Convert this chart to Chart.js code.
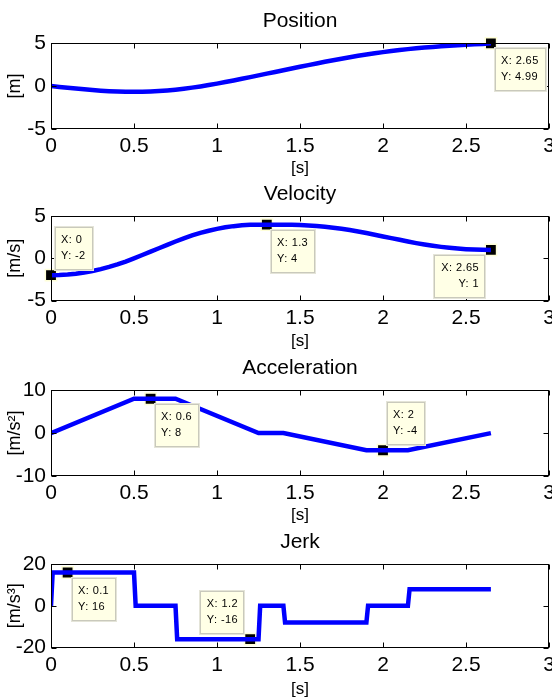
<!DOCTYPE html>
<html>
<head>
<meta charset="utf-8">
<script src="https://cdn.jsdelivr.net/npm/chart.js@4"></script>
<style>
  body { margin: 0; background: #fff; }
  #wrap { position: relative; width: 552px; height: 698px; overflow: hidden; }
  #wrap canvas { position: absolute; left: 0; }
</style>
</head>
<body>
<div id="wrap">
  <canvas id="posChart" width="552" height="176" style="top:0px"></canvas>
  <canvas id="velChart" width="552" height="176" style="top:173px"></canvas>
  <canvas id="accChart" width="552" height="176" style="top:346.5px"></canvas>
  <canvas id="jerkChart" width="552" height="176" style="top:521px"></canvas>
</div>
<script>
// time samples for position / velocity (every 0.05 s)
const time = [0, 0.05, 0.1, 0.15, 0.2, 0.25, 0.3, 0.35, 0.4, 0.45, 0.5, 0.55, 0.6, 0.65, 0.7, 0.75,
  0.8, 0.85, 0.9, 0.95, 1, 1.05, 1.1, 1.15, 1.2, 1.25, 1.3, 1.35, 1.4, 1.45, 1.5, 1.55, 1.6, 1.65,
  1.7, 1.75, 1.8, 1.85, 1.9, 1.95, 2, 2.05, 2.1, 2.15, 2.2, 2.25, 2.3, 2.35, 2.4, 2.45, 2.5, 2.55,
  2.6, 2.65];
const position = [0, -0.10, -0.20, -0.29, -0.38, -0.46, -0.53, -0.59, -0.63, -0.66, -0.67, -0.66,
  -0.63, -0.58, -0.51, -0.42, -0.31, -0.18, -0.04, 0.12, 0.29, 0.47, 0.66, 0.85, 1.05, 1.25, 1.45,
  1.65, 1.85, 2.05, 2.25, 2.45, 2.64, 2.83, 3.01, 3.19, 3.36, 3.53, 3.68, 3.83, 3.96, 4.09, 4.20,
  4.31, 4.40, 4.49, 4.57, 4.64, 4.70, 4.76, 4.82, 4.87, 4.92, 4.99];
const velocity = [-2, -1.98, -1.92, -1.82, -1.68, -1.5, -1.28, -1.02, -0.72, -0.38, 0, 0.4, 0.8,
  1.2, 1.6, 2.0, 2.38, 2.72, 3.02, 3.28, 3.5, 3.68, 3.82, 3.92, 3.98, 4, 4, 4, 4, 3.99, 3.96, 3.91,
  3.84, 3.75, 3.64, 3.51, 3.36, 3.19, 3.0, 2.8, 2.6, 2.4, 2.2, 2.0, 1.81, 1.64, 1.49, 1.36, 1.25,
  1.16, 1.09, 1.04, 1.01, 1.0];

// acceleration is piecewise linear: its corners
const accTime = [0, 0.5, 0.75, 1.25, 1.4, 1.9, 2.15, 2.65];
const acceleration = [0, 8, 8, 0, 0, -4, -4, 0];

// jerk is piecewise constant: the step edges
const jerkTime = [0, 0.01, 0.5, 0.51, 0.75, 0.76, 1.25, 1.26, 1.4, 1.41, 1.9, 1.91, 2.15, 2.16, 2.65];
const jerk = [0, 16, 16, 0, 0, -16, -16, 0, 0, -8, -8, 0, 0, 8, 8];

// data tips [x, y]
const posTips = [[2.65, 4.99]];
const velTips = [[0, -2], [1.3, 4], [2.65, 1]];
const accTips = [[0.6, 8], [2, -4]];
const jerkTips = [[0.1, 16], [1.2, -16]];

const xTicks = [0, 0.5, 1, 1.5, 2, 2.5, 3];

const FONT = '"Liberation Sans", Arial, Helvetica, sans-serif';

// box round the axes with inward tick marks, like MATLAB
const boxPlugin = {
  id: 'axesBox',
  afterDatasetsDraw(chart) {
    const { ctx, chartArea: a, scales: { x, y } } = chart;
    const l = Math.round(a.left) + 0.5, r = Math.round(a.right) - 0.5;
    const t = Math.round(a.top) + 0.5, b = Math.round(a.bottom) - 0.5;
    ctx.save();
    ctx.strokeStyle = '#000';
    ctx.lineWidth = 1;
    ctx.beginPath();
    x.ticks.forEach(tk => {
      const px = Math.round(x.getPixelForValue(tk.value)) + 0.5;
      ctx.moveTo(px, b); ctx.lineTo(px, b - 5);
      ctx.moveTo(px, t); ctx.lineTo(px, t + 5);
    });
    y.ticks.forEach(tk => {
      const py = Math.round(y.getPixelForValue(tk.value)) + 0.5;
      ctx.moveTo(l, py); ctx.lineTo(l + 5, py);
      ctx.moveTo(r, py); ctx.lineTo(r - 5, py);
    });
    ctx.stroke();
    ctx.strokeRect(l, t, r - l, b - t);
    ctx.restore();
  }
};

// MATLAB style data tip boxes next to the markers
const tipPlugin = {
  id: 'dataTips',
  afterDraw(chart, args, opts) {
    const { ctx, scales: { x, y } } = chart;
    ctx.save();
    ctx.font = '11px ' + FONT;
    ctx.letterSpacing = '0.4px';
    ctx.textBaseline = 'middle';
    opts.tips.forEach((tp, i) => {
      const side = opts.sides[i];
      const lines = ['X: ' + tp[0], 'Y: ' + tp[1]];
      const w = Math.round(Math.max(...lines.map(s => ctx.measureText(s).width)) + 13);
      const h = 43;
      const px = x.getPixelForValue(tp[0]);
      const py = y.getPixelForValue(tp[1]);
      const left = Math.round(side[1] === 'r' ? px + 4 : px - 6 - w);
      const top = Math.round(side[0] === 'b' ? py + 5 : py - 5 - h);
      ctx.fillStyle = '#ffffe6';
      ctx.fillRect(left, top, w, h);
      ctx.strokeStyle = '#e4e4d8';
      ctx.lineWidth = 1;
      ctx.strokeRect(left - 0.5, top - 0.5, w + 1, h + 1);
      ctx.strokeStyle = '#c9c9bc';
      ctx.strokeRect(left + 0.5, top + 0.5, w - 1, h - 1);
      ctx.fillStyle = '#000';
      if (side[1] === 'r') {
        ctx.textAlign = 'left';
        lines.forEach((s, k) => ctx.fillText(s, left + 6, top + 13 + k * 15.5));
      } else {
        ctx.textAlign = 'right';
        lines.forEach((s, k) => ctx.fillText(s, left + w - 6, top + 13 + k * 15.5));
      }
    });
    ctx.restore();
  }
};

function makeChart(id, title, yLabel, xs, ys, tips, sides, yMax, plotH) {
  const pts = xs.map((v, i) => ({ x: v, y: ys[i] }));
  const marks = tips.map(t => ({ x: t[0], y: t[1] }));
  new Chart(document.getElementById(id), {
    type: 'line',
    data: {
      datasets: [
        {
          data: pts,
          borderColor: '#0000ff',
          borderWidth: 4.5,
          pointRadius: 0,
          tension: 0,
          fill: false
        },
        {
          data: marks,
          showLine: false,
          pointStyle: 'rect',
          pointRadius: 8,
          pointBackgroundColor: '#000',
          pointBorderColor: '#ffffd8',
          pointBorderWidth: 1.5,
          clip: false
        }
      ]
    },
    options: {
      responsive: false,
      animation: false,
      devicePixelRatio: 1,
      layout: { autoPadding: false, padding: { left: 0, right: 3, top: 0, bottom: 0 } },
      plugins: {
        legend: { display: false },
        tooltip: { enabled: false },
        title: {
          display: true,
          text: title,
          fullSize: false,
          color: '#000',
          font: { family: FONT, size: 21, weight: 'normal', lineHeight: 1.2 },
          padding: { top: 8.5, bottom: 9.5 }
        },
        dataTips: { tips: tips, sides: sides }
      },
      scales: {
        x: {
          type: 'linear',
          min: 0,
          max: 3,
          afterBuildTicks: s => { s.ticks = xTicks.map(v => ({ value: v })); },
          afterFit: s => {
            s.height = 176 - 43 - plotH;
            s.paddingLeft = 0;
            s.paddingRight = 0;
          },
          grid: { display: false, drawTicks: false },
          border: { display: false },
          ticks: { color: '#000', padding: 5, maxRotation: 0, autoSkip: false,
                   callback: v => String(v),
                   font: { family: FONT, size: 21 } },
          title: { display: true, text: '[s]', color: '#000',
                   font: { family: FONT, size: 17, lineHeight: 0.9 }, padding: { top: 0, bottom: 0 } }
        },
        y: {
          min: -yMax,
          max: yMax,
          afterBuildTicks: s => { s.ticks = [-yMax, 0, yMax].map(v => ({ value: v })); },
          afterFit: s => {
            s.width = 51;
            s.paddingTop = 0;
            s.paddingBottom = 0;
          },
          grid: { display: false, drawTicks: false },
          border: { display: false },
          ticks: { color: '#000', padding: 5, callback: v => String(v),
                   font: { family: FONT, size: 21 } },
          title: { display: true, text: yLabel, color: '#000',
                   font: { family: FONT, size: 18, lineHeight: 1.2 }, padding: { top: 4.5, bottom: 0 } }
        }
      }
    },
    plugins: [boxPlugin, tipPlugin]
  });
}

makeChart('posChart', 'Position', '[m]', time, position, posTips, ['br'], 5, 86);
makeChart('velChart', 'Velocity', '[m/s]', time, velocity, velTips, ['tr', 'br', 'bl'], 5, 84.5);
makeChart('accChart', 'Acceleration', '[m/s²]', accTime, acceleration, accTips, ['br', 'tr'], 10, 86);
makeChart('jerkChart', 'Jerk', '[m/s³]', jerkTime, jerk, jerkTips, ['br', 'tl'], 20, 83.5);
</script>
</body>
</html>
